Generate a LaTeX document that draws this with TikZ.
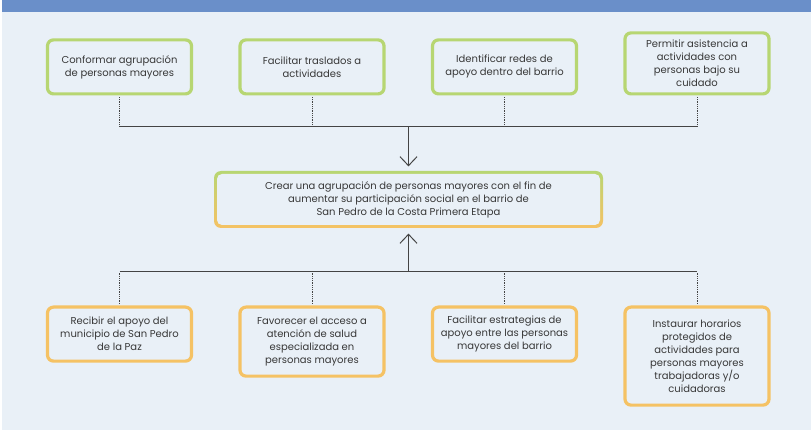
\documentclass[tikz,border=0pt]{standalone}
\usepackage{fontspec}
\setmainfont{Poppins}
\usetikzlibrary{arrows.meta}
\definecolor{fondo}{HTML}{E9F0F7}
\definecolor{barra}{HTML}{6A8FC9}
\definecolor{verde}{HTML}{B7D672}
\definecolor{naranja}{HTML}{F5C264}
\definecolor{texto}{HTML}{383838}
\definecolor{linea}{HTML}{444444}
\tikzset{
  caja/.style={draw, line width=3.2pt, rounded corners=6pt, fill=fondo, align=center,
    minimum width=144pt, minimum height=54pt, inner sep=4pt, text=texto,
    font=\fontsize{10}{13}\selectfont},
  causa/.style={caja, draw=verde, anchor=south},
  efecto/.style={caja, draw=naranja, anchor=north},
  punteada/.style={linea, densely dotted, line width=0.8pt},
  bus/.style={linea, line width=1pt},
  flecha/.style={linea, line width=1pt, -{Straight Barb[length=9pt,width=17pt]}}
}
\begin{document}
\begin{tikzpicture}[x=1pt,y=-1pt]
\useasboundingbox (0,0) rectangle (811,430);
\fill[fondo] (2,0) rectangle (811,430);
\fill[barra] (2,0) rectangle (811,12);

\node[causa] (c1) at (119.5,95.5) {Conformar agrupación\\de personas mayores};
\node[causa] (c2) at (312,95.5) {Facilitar traslados a\\actividades};
\node[causa] (c3) at (504.5,95.5) {Identificar redes de\\apoyo dentro del barrio};
\node[causa, minimum height=61pt] (c4) at (697,95.5) {Permitir asistencia a\\actividades con\\personas bajo su\\cuidado};

\shade[rounded corners=7pt, top color=verde, bottom color=naranja, middle color=verde!45!naranja]
  (214,171) rectangle (603,228);
\node[caja, draw=none, rounded corners=5pt, minimum width=383pt, minimum height=51pt]
  (meta) at (408.5,199.5)
  {Crear una agrupación de personas mayores con el fin de\\aumentar su participación social en el barrio de\\San Pedro de la Costa Primera Etapa};

\node[efecto] (e1) at (119.5,305.5) {Recibir el apoyo del\\municipio de San Pedro\\de la Paz};
\node[efecto, minimum height=69pt] (e2) at (312,305.5) {Favorecer el acceso a\\atención de salud\\especializada en\\personas mayores};
\node[efecto] (e3) at (504.5,305.5) {Facilitar estrategias de\\apoyo entre las personas\\mayores del barrio};
\node[efecto, minimum height=98pt] (e4) at (697,305.5) {Instaurar horarios\\protegidos de\\actividades para\\personas mayores\\trabajadoras y/o\\cuidadoras};

\coordinate (arriba) at (408.5,127);
\coordinate (abajo) at (408.5,272);

\foreach \n in {c1,c2,c3,c4}
  \draw[punteada] ([yshift=-1.5pt]\n.south) -- (\n.south |- arriba);
\draw[bus] (c1.south |- arriba) -- (c4.south |- arriba);
\draw[flecha] (arriba) -- ([yshift=6pt]meta.north);

\foreach \n in {e1,e2,e3,e4}
  \draw[punteada] ([yshift=1.5pt]\n.north) -- (\n.north |- abajo);
\draw[bus] (e1.north |- abajo) -- (e4.north |- abajo);
\draw[flecha] (abajo) -- ([yshift=-7pt]meta.south);
\end{tikzpicture}
\end{document}
